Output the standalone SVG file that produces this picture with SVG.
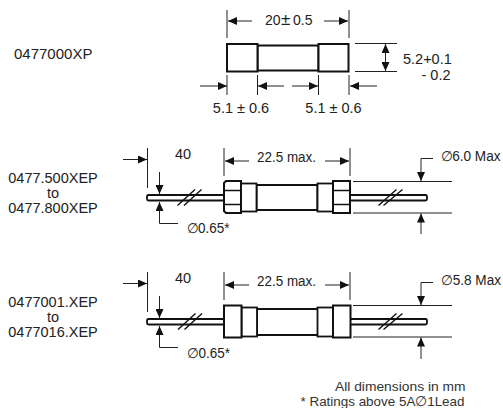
<svg xmlns="http://www.w3.org/2000/svg" width="503" height="408" viewBox="0 0 503 408">
<style>
text{font-family:"Liberation Sans",Arial,sans-serif;font-size:14.5px;fill:#222}
.m{text-anchor:middle}
.s{font-size:13.6px;fill:#333}
.t{font-size:14px}
.thick{fill:#fff;stroke:#111;stroke-width:2}
.lead{fill:#fff;stroke:#111;stroke-width:1.8}
.band{fill:none;stroke:#111;stroke-width:1.6}
.d{fill:none;stroke:#222;stroke-width:1}
.sl{fill:none;stroke:#111;stroke-width:1.4}
</style>
<defs>
<marker id="a" markerUnits="userSpaceOnUse" markerWidth="9" markerHeight="8" refX="9" refY="4" orient="auto"><path d="M0 0L9 4L0 8Z" fill="#111"/></marker>
</defs>
<g id="labels">
<text x="14" y="59" style="font-size:15px">0477000XP</text>
<text x="53" y="182.500" class="m">0477.500XEP</text>
<text x="53" y="197.500" class="m">to</text>
<text x="53" y="212.500" class="m">0477.800XEP</text>
<text x="53" y="307" class="m">0477001.XEP</text>
<text x="53" y="322" class="m">to</text>
<text x="53" y="337" class="m">0477016.XEP</text>
<text x="265" y="25" class="t">20</text><text x="281" y="25" style="font-size:17px">±</text><text x="293" y="25" class="t">0.5</text>
<text x="403" y="63.500">5.2+0.1</text>
<text x="421.500" y="79.500">- 0.2</text>
<text x="241" y="113" class="m">5.1 ± 0.6</text>
<text x="333.500" y="113" class="m">5.1 ± 0.6</text>
<text x="175" y="158.500">40</text>
<text x="257" y="162" class="t" textLength="59" lengthAdjust="spacingAndGlyphs">22.5 max.</text>
<text x="186.500" y="233" class="t" textLength="43" lengthAdjust="spacingAndGlyphs">∅0.65*</text>
<text x="440.500" y="160.500" class="t" textLength="60" lengthAdjust="spacingAndGlyphs">∅6.0 Max</text>
<text x="175" y="283">40</text>
<text x="257" y="286" class="t" textLength="59" lengthAdjust="spacingAndGlyphs">22.5 max.</text>
<text x="187" y="357.500" class="t" textLength="43" lengthAdjust="spacingAndGlyphs">∅0.65*</text>
<text x="441" y="285" class="t" textLength="60" lengthAdjust="spacingAndGlyphs">∅5.8 Max</text>
<text x="335" y="391" class="s" textLength="130.500" lengthAdjust="spacingAndGlyphs">All dimensions in mm</text>
<text x="300.500" y="405.500" class="s" textLength="164" lengthAdjust="spacingAndGlyphs">* Ratings above 5A∅1Lead</text>
</g>
<g id="fuse-top">
<rect class="thick" x="257.500" y="45.500" width="61" height="25"/>
<rect class="thick" x="227" y="44" width="30.500" height="27.500"/>
<rect class="thick" x="318.500" y="44" width="30" height="27.500"/>
</g>
<g id="fuse-mid">
<rect class="lead" x="147" y="195" width="77" height="5.500" rx="1.500"/>
<rect class="lead" x="349" y="195" width="78" height="5.500" rx="1.500"/>
<rect class="thick" x="256.500" y="185" width="61" height="25"/>
<rect class="lead" x="241" y="183.500" width="15.500" height="28"/>
<rect class="lead" x="317.500" y="183.500" width="15.500" height="28"/>
<path class="thick" d="M226 181H241V213H226L224 211V183Z"/>
<path class="thick" d="M333 181H350V213H333Z"/>
<path class="band" d="M224 190.500H241M224 204.500H241M333 190.500H350M333 204.500H350"/>
</g>
<g id="fuse-bot">
<rect class="lead" x="147" y="319" width="77" height="5.500" rx="1.500"/>
<rect class="lead" x="350" y="319" width="77" height="5.500" rx="1.500"/>
<rect class="thick" x="257" y="309" width="61" height="26"/>
<rect class="lead" x="241.500" y="307.500" width="15.500" height="29"/>
<rect class="lead" x="317.500" y="307.500" width="15.500" height="29"/>
<rect class="thick" x="224" y="305.500" width="17.500" height="32"/>
<rect class="thick" x="333" y="305.500" width="17.500" height="32"/>
</g>
<g id="connectors">
<path class="d" d="M227 10V38M349 10V38"/>
<path class="d" marker-end="url(#a)" d="M252 21H228"/>
<path class="d" marker-end="url(#a)" d="M324 21H348"/>
<path class="d" d="M355 43.500H397M355 71.500H397"/>
<path class="d" marker-end="url(#a)" d="M385.500 58V44"/>
<path class="d" marker-end="url(#a)" d="M385.500 58V71"/>
<path class="d" d="M227 75V95M257.500 75V95M318.500 75V95M349 75V95"/>
<path class="d" marker-end="url(#a)" d="M200 86H227"/>
<path class="d" marker-end="url(#a)" d="M284 86H258"/>
<path class="d" marker-end="url(#a)" d="M292 86H318"/>
<path class="d" marker-end="url(#a)" d="M377 86H350"/>

<path class="d" d="M147.500 148V188M224 148V176M350 148V176"/>
<path class="d" marker-end="url(#a)" d="M123 159.500H147"/>
<path class="d" marker-end="url(#a)" d="M249 161H225"/>
<path class="d" marker-end="url(#a)" d="M325 161H349"/>
<path class="d" marker-end="url(#a)" d="M159.500 172V194"/>
<path class="d" marker-end="url(#a)" d="M178 223.500H159.500V202"/>
<path class="sl" d="M177.500 205.500L195 189.500M184 205.500L201.500 189.500M378.500 205.500L396.500 189.500M383.500 205.500L402.500 189.500"/>
<path class="d" d="M353 181.500H452M353 213H452"/>
<path class="d" marker-end="url(#a)" d="M433 158.500H421V181"/>
<path class="d" marker-end="url(#a)" d="M421 234V213.500"/>

<path class="d" d="M147.500 272V312M224 272V300M350 272V300"/>
<path class="d" marker-end="url(#a)" d="M123 283.500H147"/>
<path class="d" marker-end="url(#a)" d="M249 285H225"/>
<path class="d" marker-end="url(#a)" d="M325 285H349"/>
<path class="d" marker-end="url(#a)" d="M159.500 296V318"/>
<path class="d" marker-end="url(#a)" d="M178 347.500H159.500V326"/>
<path class="sl" d="M178 329.500L195.500 313.500M184.500 329.500L202 313.500M378.500 329.500L396.500 313.500M383.500 329.500L402.500 313.500"/>
<path class="d" d="M353 305.500H452M353 337H452"/>
<path class="d" marker-end="url(#a)" d="M433 282.500H421V305"/>
<path class="d" marker-end="url(#a)" d="M421 359V337.500"/>
</g>
</svg>
